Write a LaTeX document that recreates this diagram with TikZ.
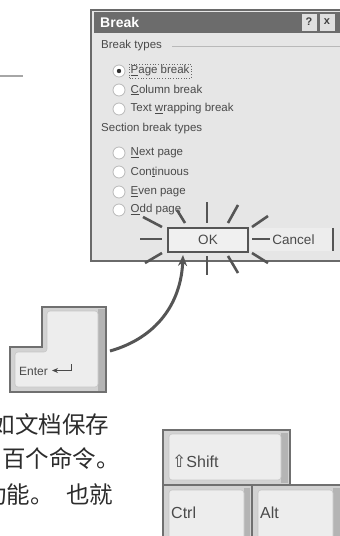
\documentclass[tikz,border=0pt]{standalone}
\usepackage{fontspec}
\setmainfont{Liberation Sans}
\newfontfamily\cjk{Noto Sans CJK SC}
\newfontfamily\dejavu{DejaVu Sans}
\usetikzlibrary{arrows.meta}
\definecolor{dlgbg}{HTML}{E6E6E6}
\definecolor{dlgframe}{HTML}{6A6A6A}
\definecolor{titlebar}{HTML}{6C6C6C}
\definecolor{txt}{HTML}{4A4A4A}
\definecolor{keyface}{HTML}{EDEDED}
\definecolor{keyrim}{HTML}{D2D2D2}
\definecolor{keyshade}{HTML}{B4B4B4}
\definecolor{keyborder}{HTML}{707070}
\definecolor{raycol}{HTML}{555555}
\definecolor{cjkcol}{HTML}{2C2C2C}
\tikzset{
  lbl/.style={anchor=west, inner sep=0pt, text=txt, font=\fontsize{11.5}{13}\selectfont},
  opt/.style={anchor=west, inner sep=1.5pt, text=txt, font=\fontsize{11.5}{13}\selectfont},
  radio/.style={circle, minimum size=12pt, inner sep=0pt, fill=white, draw=gray!55, line width=0.8pt},
  helpbtn/.style={minimum width=15pt, minimum height=17pt, inner sep=0pt, fill=gray!25, text=black!75, font=\bfseries\fontsize{11}{12}\selectfont},
  okbtn/.style={minimum width=80pt, minimum height=24pt, inner sep=0pt, draw=raycol, line width=2pt, fill=black!6, text=txt, font=\fontsize{13.5}{15}\selectfont},
  cancelbtn/.style={minimum width=83pt, minimum height=23pt, inner sep=0pt, fill=black!7, text=txt, font=\fontsize{13.5}{15}\selectfont},
  ray/.style={draw=raycol, line width=2.6pt},
  flow/.style={draw=raycol, line width=3pt, -{Stealth[length=11pt,width=9pt]}},
  keylbl/.style={anchor=west, inner sep=0pt, text=txt, font=\fontsize{16}{18}\selectfont},
  keyout/.style={draw=keyborder, line width=2.5pt, fill=keyrim},
  keyfacest/.style={draw=gray!45, line width=0.6pt, fill=keyface, rounded corners=3pt},
  cjktxt/.style={anchor=west, inner sep=0pt, text=cjkcol, font=\cjk\fontsize{23.5}{26}\selectfont},
}
\begin{document}
\begin{tikzpicture}[x=1pt,y=-1pt]
\useasboundingbox (0,0) rectangle (340,536);
\clip (0,0) rectangle (340,536);
\fill[white] (0,0) rectangle (340,536);
% stray dash
\draw[gray!70, line width=1.2pt] (0,76) -- (23,76);
% dialog
\draw[dlgframe, line width=2.2pt, fill=dlgbg] (91,10) rectangle (346,261);
\fill[titlebar] (94,12) rectangle (344,33);
\node[anchor=west, inner sep=0pt, text=white, font=\bfseries\fontsize{14}{16}\selectfont] (title) at (100,22.5) {Break};
\node[helpbtn] (help) at (309,22) {?};
\node[helpbtn] (close) at (327,22) {x};
% break types
\node[lbl] (bt) at (101,46) {Break types};
\draw[gray!55, line width=0.8pt] (172,46) -- (344,46);
\node[radio] (r1) at (119,71) {};
\fill[black!80] (r1) circle (2.2pt);
\node[opt] (o1) at (129,71) {\underline{P}age break};
\draw[black!60, dotted, line width=0.7pt] (o1.south west) rectangle (o1.north east);
\node[radio] (r2) at (119,90) {};
\node[opt] (o2) at (129,90) {\underline{C}olumn break};
\node[radio] (r3) at (119,109) {};
\node[opt] (o3) at (129,109) {Text \underline{w}rapping break};
% section break types
\node[lbl] (sbt) at (101,129) {Section break types};
\node[radio] (r4) at (119,153) {};
\node[opt] (o4) at (129,153) {\underline{N}ext page};
\node[radio] (r5) at (119,172) {};
\node[opt] (o5) at (129,172) {Con\underline{t}inuous};
\node[radio] (r6) at (119,192) {};
\node[opt] (o6) at (129,192) {\underline{E}ven page};
\node[radio] (r7) at (119,210) {};
\node[opt] (o7) at (129,210) {\underline{O}dd page};
% buttons
\node[cancelbtn] (cancel) at (291.5,239.5) {\hspace*{4pt}Cancel};
\draw[raycol, line width=2pt] (cancel.north east) -- (cancel.south east);
\node[okbtn] (ok) at (208,240) {OK};
% burst rays
\draw[ray] (140,239) -- (162,239);
\draw[ray] (252,239) -- (270,239);
\draw[ray] (143,217) -- (162,227);
\draw[ray] (177,210) -- (185,223);
\draw[ray] (207,202) -- (207,223);
\draw[ray] (238,205) -- (228,223);
\draw[ray] (268,216) -- (252,227);
\draw[ray] (162,253) -- (145,263);
\draw[ray] (207,256) -- (207,275);
\draw[ray] (228,256) -- (238,273);
\draw[ray] (252,253) -- (268,263);
% enter key
\draw[keyout] (42,307) -- (106,307) -- (106,392) -- (10,392) -- (10,347) -- (42,347) -- cycle;
\fill[keyshade] (98,309) rectangle (104.5,390.5);
\draw[keyfacest] (47,311) -- (98,311) -- (98,387) -- (15,387) -- (15,352) -- (47,352) -- cycle;
\node[anchor=west, inner sep=0pt, text=txt, font=\fontsize{12}{14}\selectfont] (entertxt) at (19,371) {Enter};
\draw[txt, line width=1.3pt, -{Stealth[length=6pt,width=5pt]}] (71.5,364) -- (71.5,370.5) -- (52,370.5);
% arrow from Enter to OK
\coordinate (arrowstart) at (110,351);
\coordinate (arrowend) at (183,255);
\draw[flow] (arrowstart) .. controls (156,338) and (181,304) .. (arrowend);
% chinese text
\node[cjktxt] (l1) at (-8.5,424) {如文档保存};
\node[cjktxt] (l2) at (2,458) {百个命令。};
\node[cjktxt] (l3a) at (-17,495) {功能。};
\node[cjktxt] (l3b) at (66,495) {也就};
% modifier keys
\draw[keyout] (163,430) rectangle (290,485);
\draw[keyout] (163,485) rectangle (252,545);
\draw[keyout] (252,485) rectangle (346,545);
\fill[keyshade] (281,433) rectangle (288,483);
\fill[keyshade] (244,488) rectangle (250,545);
\fill[keyshade] (333,488) rectangle (340,545);
\draw[keyfacest] (169,434) rectangle (281,480);
\draw[keyfacest] (169,490) rectangle (244,545);
\draw[keyfacest] (258,490) rectangle (333,545);
\node[keylbl] (shift) at (172,461) {{\dejavu\fontsize{17}{18}\selectfont ⇧}Shift};
\node[keylbl] (ctrl) at (171,513) {Ctrl};
\node[keylbl] (alt) at (260,513) {Alt};
\end{tikzpicture}
\end{document}
